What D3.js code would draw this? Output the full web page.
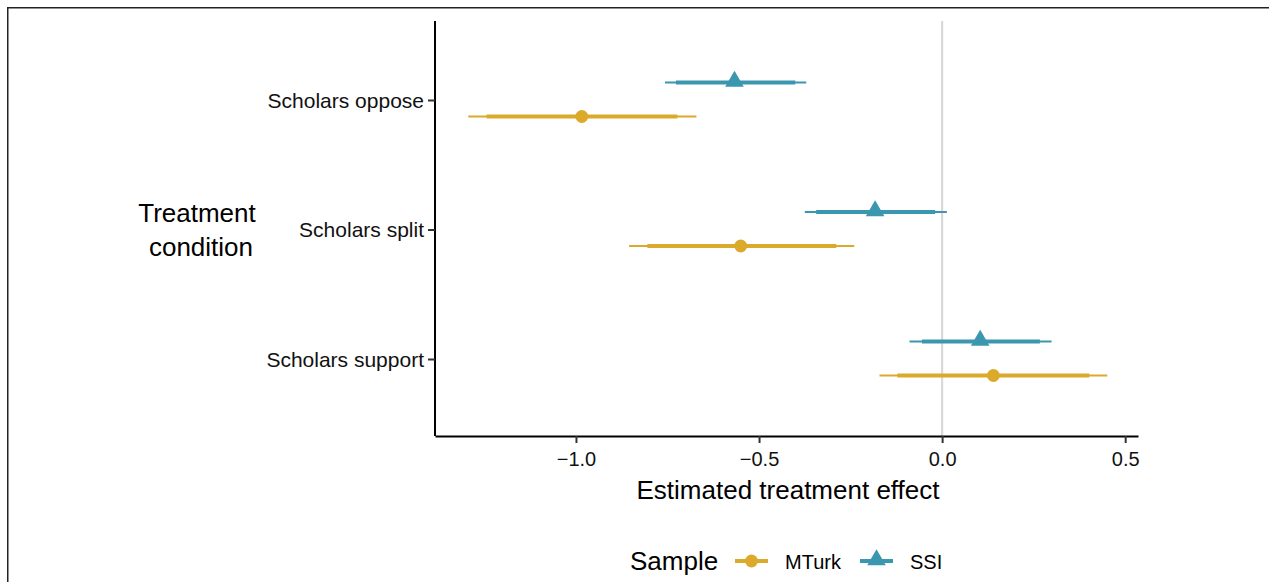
<!DOCTYPE html>
<html>
<head>
<meta charset="utf-8">
<script src="https://cdn.jsdelivr.net/npm/d3@7"></script>
<style>
  html, body { margin: 0; padding: 0; background: #fff; }
  text { font-family: "Liberation Sans", Arial, Helvetica, sans-serif; }
</style>
</head>
<body>
<div id="chart"></div>
<script>
// ━━━ Data ━━━━━━━━━━━━━━━━━━━━━━━━━━━━━━━━━━━━━━━━━━━━━━━━━━━━━━━━━━━━━━━━━━━━
const conditions = ['Scholars oppose', 'Scholars split', 'Scholars support'];
const samples = ['MTurk', 'SSI'];

// estimate, inner (thick) interval, outer (thin) interval, per condition
const mturk_est     = [-0.984, -0.550, 0.140];
const mturk_lo_in   = [-1.244, -0.805, -0.122];
const mturk_hi_in   = [-0.723, -0.289, 0.402];
const mturk_lo_out  = [-1.294, -0.855, -0.171];
const mturk_hi_out  = [-0.671, -0.240, 0.451];

const ssi_est       = [-0.567, -0.183, 0.104];
const ssi_lo_in     = [-0.727, -0.344, -0.055];
const ssi_hi_in     = [-0.401, -0.019, 0.267];
const ssi_lo_out    = [-0.757, -0.375, -0.089];
const ssi_hi_out    = [-0.371, 0.013, 0.299];

const x_ticks = [-1.0, -0.5, 0.0, 0.5];

const rows = [];
conditions.forEach((c, i) => {
  rows.push({ sample: 'MTurk', condition: c, est: mturk_est[i], loIn: mturk_lo_in[i], hiIn: mturk_hi_in[i], loOut: mturk_lo_out[i], hiOut: mturk_hi_out[i] });
  rows.push({ sample: 'SSI', condition: c, est: ssi_est[i], loIn: ssi_lo_in[i], hiIn: ssi_hi_in[i], loOut: ssi_lo_out[i], hiOut: ssi_hi_out[i] });
});

// ━━━ Setup ━━━━━━━━━━━━━━━━━━━━━━━━━━━━━━━━━━━━━━━━━━━━━━━━━━━━━━━━━━━━━━━━━━
const width = 1269, height = 582;
const panel = { left: 435, right: 1138, top: 21, bottom: 436 };
const font = '"Liberation Sans", Arial, Helvetica, sans-serif';

const svg = d3.select('#chart').append('svg')
  .attr('width', width)
  .attr('height', height)
  .attr('viewBox', [0, 0, width, height]);

svg.append('rect').attr('width', width).attr('height', height).attr('fill', '#fff');
// outer frame (cropped on right and bottom)
svg.append('rect')
  .attr('x', 7.75).attr('y', 7.75)
  .attr('width', width + 20).attr('height', height + 20)
  .attr('fill', 'none').attr('stroke', '#222').attr('stroke-width', 1.5);

const color = d3.scaleOrdinal().domain(samples).range(['#dcaa2b', '#3b97b0']);

const x = d3.scaleLinear().domain([-1.385, 0.535]).range([panel.left, panel.right]);
const y = d3.scalePoint().domain(conditions.slice().reverse()).range([359, 100]);
const dodge = d3.scaleOrdinal().domain(samples).range([16.5, -17.5]);

const grid = svg.append('g').attr('id', 'zero-line');
const marks = svg.append('g').attr('id', 'marks');
const axes = svg.append('g').attr('id', 'axes');
const legend = svg.append('g').attr('id', 'legend');

// zero reference line
grid.append('line')
  .attr('x1', x(0)).attr('x2', x(0))
  .attr('y1', panel.top).attr('y2', panel.bottom)
  .attr('stroke', '#d9d9d9').attr('stroke-width', 2.2);

// ━━━ Intervals and points ━━━━━━━━━━━━━━━━━━━━━━━━━━━━━━━━━━━━━━━━━━━━━━━━━━━━
const rowY = d => y(d.condition) + dodge(d.sample);

marks.selectAll('line.outer').data(rows).join('line')
  .attr('class', 'outer')
  .attr('x1', d => x(d.loOut)).attr('x2', d => x(d.hiOut))
  .attr('y1', rowY).attr('y2', rowY)
  .attr('stroke', d => color(d.sample)).attr('stroke-width', 2);

marks.selectAll('line.inner').data(rows).join('line')
  .attr('class', 'inner')
  .attr('x1', d => x(d.loIn)).attr('x2', d => x(d.hiIn))
  .attr('y1', rowY).attr('y2', rowY)
  .attr('stroke', d => color(d.sample)).attr('stroke-width', 4);

const circle = d3.symbol().type(d3.symbolCircle).size(130);
const triangle = d3.symbol().type(d3.symbolTriangle).size(150);

marks.selectAll('path.pt').data(rows).join('path')
  .attr('class', 'pt')
  .attr('d', d => d.sample === 'MTurk' ? circle() : triangle())
  .attr('transform', d => `translate(${x(d.est)},${rowY(d) + (d.sample === 'SSI' ? -1 : 0)})`)
  .attr('fill', d => color(d.sample));

// ━━━ Axes ━━━━━━━━━━━━━━━━━━━━━━━━━━━━━━━━━━━━━━━━━━━━━━━━━━━━━━━━━━━━━━━━━━━
const xAxis = axes.append('g')
  .attr('transform', `translate(0,${panel.bottom})`)
  .call(d3.axisBottom(x).tickValues(x_ticks).tickFormat(d => d3.format('.1f')(d).replace('-', '\u2212')).tickSize(7).tickSizeOuter(0));
xAxis.attr('font-family', font).attr('font-size', 20);
xAxis.select('.domain').attr('stroke', '#000').attr('stroke-width', 2);
xAxis.selectAll('.tick line').attr('stroke', '#333').attr('stroke-width', 2);
xAxis.selectAll('.tick text').attr('fill', '#111').attr('y', 30).attr('dy', 0);

const yAxis = axes.append('g')
  .attr('transform', `translate(${panel.left},0)`)
  .call(d3.axisLeft(y).tickSize(7).tickSizeOuter(0));
yAxis.attr('font-family', font).attr('font-size', 21);
yAxis.select('.domain').attr('d', `M0,${panel.top}V${panel.bottom}`).attr('stroke', '#000').attr('stroke-width', 2);
yAxis.selectAll('.tick line').attr('stroke', '#333').attr('stroke-width', 2);
yAxis.selectAll('.tick text').attr('fill', '#111').attr('x', -11).attr('dy', 0).attr('y', 7);

svg.append('text')
  .attr('x', 788).attr('y', 499)
  .attr('text-anchor', 'middle')
  .attr('font-size', 26).attr('fill', '#000')
  .text('Estimated treatment effect');

const yTitle = svg.append('text')
  .attr('text-anchor', 'middle')
  .attr('font-size', 26).attr('fill', '#000');
yTitle.append('tspan').attr('x', 197).attr('y', 222).text('Treatment');
yTitle.append('tspan').attr('x', 201).attr('y', 256).text('condition');

// ━━━ Legend ━━━━━━━━━━━━━━━━━━━━━━━━━━━━━━━━━━━━━━━━━━━━━━━━━━━━━━━━━━━━━━━━━
legend.append('text')
  .attr('x', 630).attr('y', 570)
  .attr('font-size', 26).attr('fill', '#000')
  .text('Sample');

const keyX = d3.scaleOrdinal().domain(samples).range([735, 860]);
const keys = legend.selectAll('g.key').data(samples).join('g')
  .attr('class', 'key')
  .attr('transform', d => `translate(${keyX(d)},561)`);

keys.append('line')
  .attr('x1', 0).attr('x2', 33)
  .attr('stroke', d => color(d)).attr('stroke-width', 4);
keys.append('path')
  .attr('d', d => d === 'MTurk' ? circle() : triangle())
  .attr('transform', d => `translate(16.5,${d === 'SSI' ? -1 : 0})`)
  .attr('fill', d => color(d));
keys.append('text')
  .attr('x', 50).attr('y', 7.5)
  .attr('font-size', 20).attr('fill', '#000')
  .text(d => d);
</script>
</body>
</html>
